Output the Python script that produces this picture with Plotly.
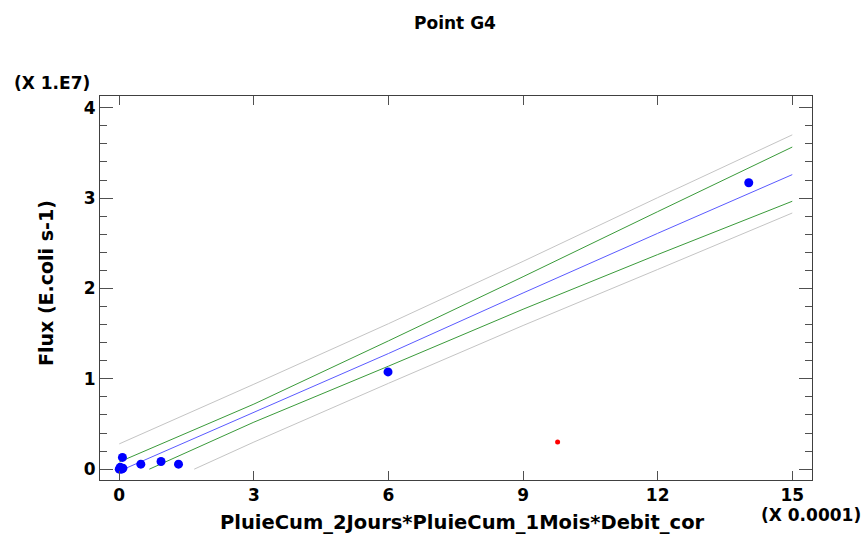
import plotly.graph_objects as go

# Observed data (x in units of 1e-4, y in units of 1e7)
obs_x = [0.0, 0.02, 0.05, 0.08, 0.07, 0.48, 0.93, 1.32, 5.99, 14.03]
obs_y = [0.0, 0.02, 0.0, 0.01, 0.13, 0.055, 0.085, 0.055, 1.076, 3.17]

# Excluded / outlier point
out_x = [9.77]
out_y = [0.30]

# Fitted line and bands
fit_x = [0.1, 3, 6, 9, 12, 15]
fit_y = [0.0, 0.63, 1.28, 1.95, 2.61, 3.26]

upper_conf_x = [0, 3, 6, 9, 12, 15]
upper_conf_y = [0.08, 0.72, 1.42, 2.13, 2.85, 3.565]
lower_conf_x = [0.67, 3, 6, 9, 12, 15]
lower_conf_y = [0.0, 0.52, 1.14, 1.77, 2.375, 2.965]

upper_pred_x = [0, 3, 6, 9, 12, 15]
upper_pred_y = [0.28, 0.94, 1.61, 2.30, 3.005, 3.70]
lower_pred_x = [1.67, 3, 6, 9, 12, 15]
lower_pred_y = [0.0, 0.30, 0.95, 1.59, 2.21, 2.835]

x_ticks = [0, 3, 6, 9, 12, 15]
y_ticks = [0, 1, 2, 3, 4]

FONT = "DejaVu Sans"
GRAY_PRED = "#c4c4c4"
GREEN = "#3a9a3a"
BLUE_LINE = "#5a5aff"

fig = go.Figure()
for xs, ys, col in [
    (upper_pred_x, upper_pred_y, GRAY_PRED),
    (lower_pred_x, lower_pred_y, GRAY_PRED),
    (upper_conf_x, upper_conf_y, GREEN),
    (lower_conf_x, lower_conf_y, GREEN),
    (fit_x, fit_y, BLUE_LINE),
]:
    fig.add_trace(go.Scatter(x=xs, y=ys, mode="lines",
                             line=dict(color=col, width=1), hoverinfo="skip"))

fig.add_trace(go.Scatter(x=obs_x, y=obs_y, mode="markers",
                         marker=dict(color="#0000ff", size=9)))
fig.add_trace(go.Scatter(x=out_x, y=out_y, mode="markers",
                         marker=dict(color="#ff0000", size=5, symbol="circle")))

axis_common = dict(
    showgrid=False, zeroline=False, showline=True, mirror="ticks",
    linecolor="#404040", linewidth=1, ticks="inside", tickcolor="#505050",
    tickfont=dict(family=FONT, size=17, color="black", weight="bold"),
)

fig.update_xaxes(range=[-0.43, 15.44], tickvals=x_ticks,
                 ticktext=[str(v) for v in x_ticks], ticklen=9, **axis_common)
fig.update_yaxes(range=[-0.12, 4.13], tickvals=y_ticks,
                 ticktext=[str(v) for v in y_ticks], ticklen=13,
                 minor=dict(dtick=0.2, ticks="inside", ticklen=7, tickcolor="#505050"),
                 **axis_common)

ann_font = dict(family=FONT, size=17, color="black", weight="bold")
lab_font = dict(family=FONT, size=19, color="black", weight="bold")

fig.update_layout(
    width=866, height=535,
    margin=dict(l=100, r=54, t=96, b=55),
    paper_bgcolor="white", plot_bgcolor="white",
    showlegend=False,
    title=dict(text="Point G4", x=455 / 866, xanchor="center",
               y=1 - 23 / 535, yanchor="middle", font=ann_font),
    annotations=[
        dict(text="PluieCum_2Jours*PluieCum_1Mois*Debit_cor", xref="paper", yref="paper",
             x=(462 - 100) / 712, y=(480 - 522) / 384, xanchor="center", yanchor="middle",
             showarrow=False, font=dict(family=FONT, size=19.5, color="black", weight="bold")),
        dict(text="Flux (E.coli s-1)", xref="paper", yref="paper", textangle=-90,
             x=(46 - 100) / 712, y=(480 - 283) / 384, xanchor="center", yanchor="middle",
             showarrow=False, font=lab_font),
        dict(text="(X 1.E7)", xref="paper", yref="paper",
             x=(12 - 100) / 712, y=(480 - 83) / 384, xanchor="left", yanchor="middle",
             showarrow=False, font=ann_font),
        dict(text="(X 0.0001)", xref="paper", yref="paper",
             x=(863 - 100) / 712, y=(480 - 515) / 384, xanchor="right", yanchor="middle",
             showarrow=False, font=ann_font),
    ],
)

fig.write_html("out.html")
